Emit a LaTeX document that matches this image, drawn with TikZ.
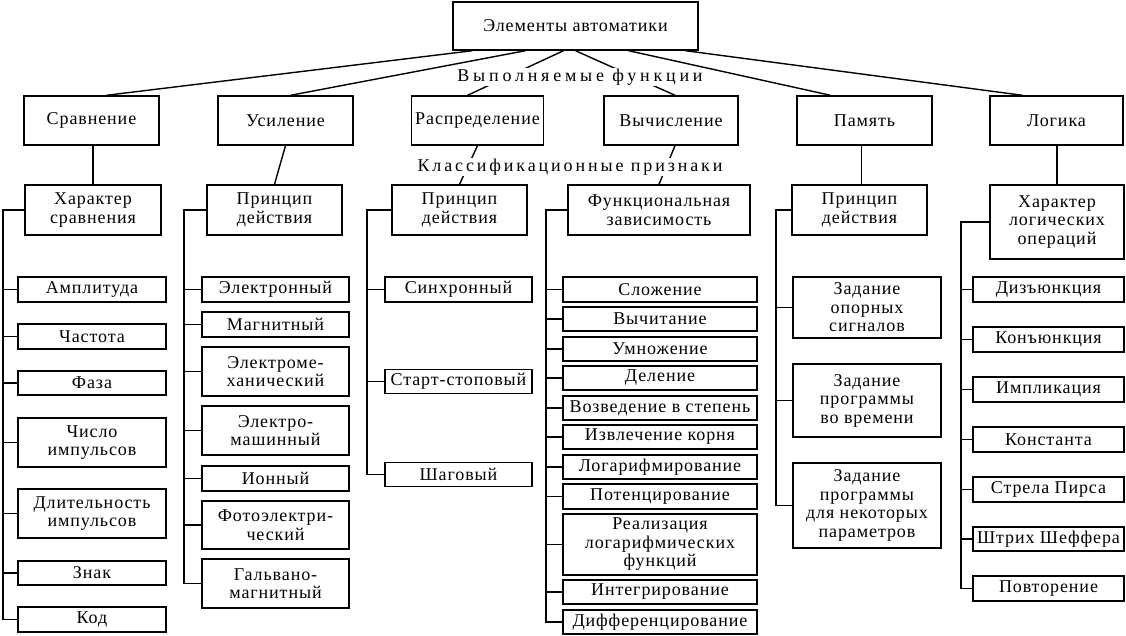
\documentclass[tikz,border=0pt]{standalone}
\usepackage{fontspec}
\setmainfont{Liberation Serif}
\tikzset{
    box/.style={draw,line width=1.4pt,align=center,inner sep=0pt,
        font=\fontsize{18}{18.5}\selectfont\addfontfeature{LetterSpace=5}},
    link/.style={line width=1.4pt},
    caption/.style={fill=white,inner sep=1pt,
        font=\fontsize{18}{18.5}\selectfont\addfontfeature{LetterSpace=#1}}
}
\begin{document}
\begin{tikzpicture}[x=1pt,y=1pt]
        \useasboundingbox (0,0) rectangle (1126,-636);
        %% Top box
        \node[box,minimum width=245,minimum height=48] (top) at (575.5,-26) {Элементы автоматики};
        %% Functions
        \node[box,minimum width=135,minimum height=49] (srav) at (91.5,-120.5) {Сравнение};
        \node[box,minimum width=135,minimum height=49] (usil) at (285.5,-120.5) {Усиление};
        \node[box,minimum width=132,minimum height=49] (raspr) at (477.5,-120.5) {Распределение};
        \node[box,minimum width=134,minimum height=49] (vych) at (671,-120.5) {Вычисление};
        \node[box,minimum width=135,minimum height=49] (pam) at (864.5,-120.5) {Память};
        \node[box,minimum width=133,minimum height=49] (logik) at (1056.5,-120.5) {Логика};
        %% Classification features
        \node[box,minimum width=136,minimum height=50] (harsrav) at (93,-210) {Характер\\сравнения};
        \node[box,minimum width=135,minimum height=50] (princusil) at (274.5,-210) {Принцип\\действия};
        \node[box,minimum width=135,minimum height=50] (princraspr) at (459.5,-210) {Принцип\\действия};
        \node[box,minimum width=182,minimum height=50] (funczav) at (659,-210) {Функциональная\\зависимость};
        \node[box,minimum width=135,minimum height=50] (princpam) at (859.5,-210) {Принцип\\действия};
        \node[box,minimum width=134,minimum height=74] (harlog) at (1057,-222) {Характер\\логических\\операций};
        %% Column 1, comparison
        \node[box,minimum width=148,minimum height=25] (ampl) at (92,-289.5) {Амплитуда};
        \node[box,minimum width=148,minimum height=25] (chast) at (92,-336.5) {Частота};
        \node[box,minimum width=148,minimum height=24] (faza) at (92,-383) {Фаза};
        \node[box,minimum width=148,minimum height=49] (chislo) at (92,-442.5) {Число\\импульсов};
        \node[box,minimum width=148,minimum height=49] (dlit) at (92,-513.5) {Длительность\\импульсов};
        \node[box,minimum width=148,minimum height=24] (znak) at (92,-573) {Знак};
        \node[box,minimum width=148,minimum height=25] (kod) at (92,-619.5) {Код};
        %% Column 2, amplification
        \node[box,minimum width=147,minimum height=25] (elektron) at (275.5,-289.5) {Электронный};
        \node[box,minimum width=147,minimum height=25] (magnit) at (275.5,-324.5) {Магнитный};
        \node[box,minimum width=147,minimum height=49] (elmeh) at (275.5,-371.5) {Электроме-\\ханический};
        \node[box,minimum width=147,minimum height=49] (elmash) at (275.5,-430.5) {Электро-\\машинный};
        \node[box,minimum width=147,minimum height=25] (ion) at (275.5,-478.5) {Ионный};
        \node[box,minimum width=147,minimum height=48] (foto) at (275.5,-525) {Фотоэлектри-\\ческий};
        \node[box,minimum width=147,minimum height=49] (galv) at (275.5,-583.5) {Гальвано-\\магнитный};
        %% Column 3, distribution
        \node[box,minimum width=147,minimum height=25] (sinhr) at (458.5,-289.5) {Синхронный};
        \node[box,minimum width=147,minimum height=24] (startstop) at (458.5,-381.5) {Старт-стоповый};
        \node[box,minimum width=147,minimum height=24] (shag) at (458.5,-474.5) {Шаговый};
        %% Column 4, computation
        \node[box,minimum width=194,minimum height=25] (slozh) at (660,-289.5) {Сложение};
        \node[box,minimum width=194,minimum height=24] (vychit) at (660,-319) {Вычитание};
        \node[box,minimum width=194,minimum height=24] (umnozh) at (660,-349) {Умножение};
        \node[box,minimum width=194,minimum height=24] (delen) at (660,-378) {Деление};
        \node[box,minimum width=194,minimum height=24] (vozved) at (660,-408) {Возведение в степень};
        \node[box,minimum width=194,minimum height=24] (izvl) at (660,-437) {Извлечение корня};
        \node[box,minimum width=194,minimum height=24] (logar) at (660,-467) {Логарифмирование};
        \node[box,minimum width=194,minimum height=25] (poten) at (660,-496.5) {Потенцирование};
        \node[box,minimum width=194,minimum height=61] (realiz) at (660,-544.5) {Реализация\\логарифмических\\функций};
        \node[box,minimum width=194,minimum height=24] (integr) at (660,-592) {Интегрирование};
        \node[box,minimum width=194,minimum height=24] (differ) at (660,-622) {Дифференцирование};
        %% Column 5, memory
        \node[box,minimum width=148,minimum height=61] (opor) at (867,-307.5) {Задание\\опорных\\сигналов};
        \node[box,minimum width=148,minimum height=73] (progvr) at (867,-400.5) {Задание\\программы\\во времени};
        \node[box,minimum width=148,minimum height=85] (progpar) at (867,-505.5) {Задание\\программы\\для некоторых\\параметров};
        %% Column 6, logic
        \node[box,minimum width=151,minimum height=25] (dizj) at (1048.5,-289.5) {Дизъюнкция};
        \node[box,minimum width=151,minimum height=25] (konj) at (1048.5,-339.5) {Конъюнкция};
        \node[box,minimum width=151,minimum height=25] (impl) at (1048.5,-389.5) {Импликация};
        \node[box,minimum width=151,minimum height=25] (konst) at (1048.5,-439.5) {Константа};
        \node[box,minimum width=151,minimum height=25] (pirs) at (1048.5,-489.5) {Стрела Пирса};
        \node[box,minimum width=151,minimum height=24] (sheff) at (1048.5,-539) {Штрих Шеффера};
        \node[box,minimum width=151,minimum height=25] (povt) at (1048.5,-588.5) {Повторение};
        %% Top connectors
        \draw[link] ([xshift=-103]top.south) -- ([xshift=15]srav.north);
        \draw[link] ([xshift=-50]top.south) -- ([xshift=5]usil.north);
        \draw[link] ([xshift=-12]top.south) -- ([xshift=-10]raspr.north);
        \draw[link] ([xshift=0]top.south) -- ([xshift=4]vych.north);
        \draw[link] ([xshift=53]top.south) -- ([xshift=-34]pam.north);
        \draw[link] ([xshift=110]top.south) -- ([xshift=-34]logik.north);
        %% Second level connectors
        \draw[link] (harsrav.north) -- (harsrav.north |- srav.south);
        \draw[link] (usil.south) -- (princusil.north);
        \draw[link] (raspr.south) -- (princraspr.north);
        \draw[link] ([xshift=4]vych.south) -- (funczav.north);
        \draw[link] ([xshift=-3]pam.south) -- ([xshift=2]princpam.north);
        \draw[link] (harlog.north) -- (harlog.north |- logik.south);
        %% Spines
        \coordinate (sp1) at (3,-210);
        \coordinate (sp2) at (184,-210);
        \coordinate (sp3) at (367,-210);
        \coordinate (sp4) at (546,-210);
        \coordinate (sp5) at (776,-210);
        \coordinate (sp6) at (961,-222);
        \draw[link] (harsrav.west) -- (sp1) |- (kod.west);
        \draw[link] (ampl.west) -- (ampl.west -| sp1) (chast.west) -- (chast.west -| sp1)
            (faza.west) -- (faza.west -| sp1) (chislo.west) -- (chislo.west -| sp1)
            (dlit.west) -- (dlit.west -| sp1) (znak.west) -- (znak.west -| sp1);
        \draw[link] (princusil.west) -- (sp2) |- (galv.west);
        \draw[link] (elektron.west) -- (elektron.west -| sp2) (magnit.west) -- (magnit.west -| sp2)
            (elmeh.west) -- (elmeh.west -| sp2) (elmash.west) -- (elmash.west -| sp2)
            (ion.west) -- (ion.west -| sp2) (foto.west) -- (foto.west -| sp2);
        \draw[link] (princraspr.west) -- (sp3) |- (shag.west);
        \draw[link] (sinhr.west) -- (sinhr.west -| sp3) (startstop.west) -- (startstop.west -| sp3);
        \draw[link] (funczav.west) -- (sp4) |- (differ.west);
        \draw[link] (slozh.west) -- (slozh.west -| sp4) (vychit.west) -- (vychit.west -| sp4)
            (umnozh.west) -- (umnozh.west -| sp4) (delen.west) -- (delen.west -| sp4)
            (vozved.west) -- (vozved.west -| sp4) (izvl.west) -- (izvl.west -| sp4)
            (logar.west) -- (logar.west -| sp4) (poten.west) -- (poten.west -| sp4)
            (realiz.west) -- (realiz.west -| sp4) (integr.west) -- (integr.west -| sp4);
        \draw[link] (princpam.west) -- (sp5) |- (progpar.west);
        \draw[link] (opor.west) -- (opor.west -| sp5) (progvr.west) -- (progvr.west -| sp5);
        \draw[link] (harlog.west) -- (sp6) |- (povt.west);
        \draw[link] (dizj.west) -- (dizj.west -| sp6) (konj.west) -- (konj.west -| sp6)
            (impl.west) -- (impl.west -| sp6) (konst.west) -- (konst.west -| sp6)
            (pirs.west) -- (pirs.west -| sp6) (sheff.west) -- (sheff.west -| sp6);
        %% Captions over the connectors
        \node[caption=21] (funclabel) at (580,-77) {Выполняемые функции};
        \node[caption=16] (classlabel) at (570,-167) {Классификационные признаки};
\end{tikzpicture}
\end{document}
